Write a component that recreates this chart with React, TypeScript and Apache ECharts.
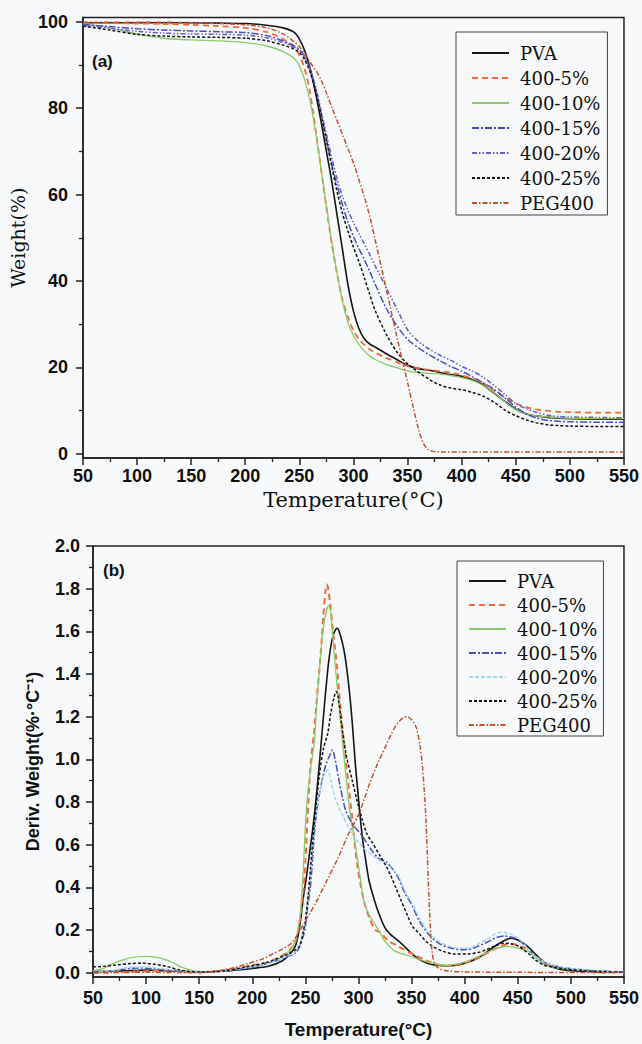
import React, { useEffect, useRef } from 'react';
import * as echarts from 'echarts';

const SERIES_NAMES = ['PVA', '400-5%', '400-10%', '400-15%', '400-20%', '400-25%', 'PEG400'];

const X_MIN = 50;
const X_MAX = 550;
const X_STEP = 50;

const TGA_LABEL_TICKS = [0, 20, 40, 60, 80, 100];
const TGA_MINOR_TICKS = [10, 30, 50, 70, 90];
const DTG_LABEL_TICKS = [0, 0.2, 0.4, 0.6, 0.8, 1.0, 1.2, 1.4, 1.6, 1.8, 2.0];
const DTG_MINOR_TICKS = [0.1, 0.3, 0.5, 0.7, 0.9, 1.1, 1.3, 1.5, 1.7, 1.9];

// ---------- (a) TGA: weight (%) vs temperature ----------
const tgaPVA = [[50,99.8],[75,99.8],[100,99.8],[125,99.8],[150,99.8],[175,99.7],[200,99.6],[220,99.2],[235,98.6],[245,97.6],[250,96],[255,93.3],[260,89.2],[265,83.5],[270,77],[275,70],[280,63],[285,55],[290,47],[295,39],[300,33],[305,29],[310,26.6],[315,25.4],[320,24.7],[330,23.2],[340,21.8],[350,20.5],[360,19.7],[370,19.3],[380,18.8],[390,18.3],[400,17.9],[410,17.1],[420,15.9],[430,14],[440,12.1],[450,10.3],[460,9.2],[470,8.7],[480,8.4],[490,8.2],[500,8.1],[525,8],[550,8]];
const tga5 = [[50,99.8],[75,99.7],[100,99.6],[125,99.5],[150,99.3],[175,99],[200,98.6],[220,97.6],[235,96],[245,94],[250,92.3],[255,89],[260,83.5],[265,75],[270,66],[275,57],[280,48.5],[285,41.5],[290,35.5],[295,31.5],[300,28.5],[305,26.5],[310,25.2],[315,24.2],[320,23.4],[330,22.2],[340,21.2],[350,20.3],[360,19.8],[370,19.4],[380,19.1],[390,18.8],[400,18.2],[410,17.4],[420,16.3],[430,14.6],[440,13],[450,11.6],[460,10.8],[470,10.2],[480,9.9],[490,9.7],[500,9.6],[525,9.5],[550,9.5]];
const tga10 = [[50,99.5],[75,98.6],[100,97.2],[125,96.2],[150,95.8],[175,95.6],[200,95.2],[220,94.4],[235,93.1],[245,91.6],[250,89.8],[255,86.5],[260,81.5],[265,74.5],[270,66],[275,57.5],[280,49],[285,41.5],[290,35],[295,30.3],[300,27.3],[305,25.3],[310,23.8],[315,22.6],[320,21.8],[330,20.7],[340,19.9],[350,19.2],[360,18.8],[370,18.6],[380,18.4],[390,18.1],[400,17.6],[410,16.9],[420,15.8],[430,14.1],[440,12],[450,10.2],[460,9.2],[470,8.7],[480,8.5],[490,8.3],[500,8.2],[525,8.1],[550,8.1]];
const tga15 = [[50,99.4],[75,98.9],[100,98.4],[125,98.1],[150,97.9],[175,97.7],[200,97.5],[220,96.8],[235,95.6],[245,94.5],[250,93.6],[255,92],[260,89],[265,84.5],[270,79],[275,73],[280,67],[285,62],[290,57.5],[295,53.5],[300,50.3],[305,47.5],[310,45],[315,42.2],[320,39.3],[330,33.8],[340,29.7],[350,26.5],[360,24.5],[370,22.9],[380,21.5],[390,20.2],[400,19.1],[410,17.8],[420,16.4],[430,14.9],[440,12.9],[450,10.8],[460,9.2],[470,8.2],[480,7.7],[490,7.5],[500,7.4],[525,7.3],[550,7.3]];
const tga20 = [[50,99.2],[75,98.5],[100,97.8],[125,97.4],[150,97.2],[175,97.1],[200,96.9],[220,96.3],[235,95.2],[245,94.2],[250,93.3],[255,91.8],[260,89],[265,85],[270,79.5],[275,74],[280,68.5],[285,63.5],[290,59.5],[295,56.3],[300,53.5],[305,51],[310,48.6],[315,46.1],[320,43.5],[330,38.6],[340,33.6],[350,28.7],[360,26],[370,24.2],[380,22.8],[390,21.6],[400,20.2],[410,19.1],[420,17.7],[430,15.8],[440,13.7],[450,11.6],[460,10.4],[470,9.5],[480,8.9],[490,8.6],[500,8.5],[525,8.4],[550,8.3]];
const tga25 = [[50,99],[75,98.1],[100,97.1],[125,96.7],[150,96.5],[175,96.4],[200,96.2],[220,95.6],[235,94.6],[245,93.7],[250,92.9],[255,91.2],[260,88.3],[265,84],[270,78.5],[275,72.5],[280,66.5],[285,60.5],[290,55.5],[295,51.5],[300,47.8],[305,44.5],[310,40.8],[315,36.9],[320,33.2],[330,27.8],[340,23.6],[350,20.8],[360,18.9],[370,17.2],[380,15.9],[390,15.2],[400,14.8],[410,14.2],[420,13.3],[430,11.9],[440,10.1],[450,8.8],[460,7.8],[470,7.1],[480,6.7],[490,6.5],[500,6.4],[525,6.3],[550,6.3]];
const tgaPEG = [[50,99.9],[75,99.9],[100,99.9],[125,99.9],[150,99.8],[175,99.6],[200,99.3],[220,98.6],[235,97.2],[245,95.4],[250,94.3],[255,92.6],[260,90.6],[265,88.8],[270,86.6],[275,83.5],[280,80.2],[285,77],[290,73.8],[295,70.6],[300,67.3],[305,63.5],[310,59.5],[315,55],[320,49.6],[330,38.5],[340,27.2],[350,16.5],[355,11],[360,5.8],[365,2.2],[370,0.8],[375,0.5],[380,0.4],[400,0.4],[450,0.4],[500,0.4],[550,0.4]];

// ---------- (b) DTG: derivative weight vs temperature ----------
const dtgPVA = [[50,0.005],[75,0.008],[100,0.012],[125,0.008],[150,0.003],[175,0.008],[200,0.02],[215,0.03],[228,0.055],[236,0.09],[241,0.13],[245,0.23],[248,0.35],[251,0.45],[255,0.6],[258.5,0.74],[263,0.97],[267.5,1.23],[272,1.46],[276,1.58],[280,1.615],[283,1.58],[286,1.52],[288,1.46],[291,1.34],[294,1.18],[297,0.98],[299,0.87],[303.5,0.64],[307,0.52],[310,0.43],[315,0.34],[319,0.28],[325,0.21],[330,0.18],[335,0.16],[342,0.13],[350,0.09],[360,0.055],[370,0.037],[382,0.033],[397,0.04],[413,0.07],[428,0.123],[437,0.15],[444,0.162],[452,0.148],[460,0.12],[468,0.08],[476,0.045],[485,0.022],[495,0.012],[510,0.007],[530,0.003],[550,0.002]];
const dtg5 = [[50,0.0],[75,0.003],[100,0.008],[120,0.012],[135,0.008],[150,0.003],[175,0.012],[200,0.035],[215,0.05],[228,0.08],[236,0.11],[241,0.15],[244,0.22],[247.3,0.34],[250,0.52],[252,0.73],[255,0.98],[258,1.12],[261,1.3],[264.5,1.5],[267,1.68],[269,1.79],[270,1.82],[271.5,1.8],[273.5,1.72],[275.5,1.62],[279,1.47],[283.3,1.23],[288,1.0],[291,0.86],[294,0.73],[299,0.5],[305,0.34],[310,0.26],[316,0.2],[320,0.19],[328,0.15],[335,0.13],[350,0.09],[366,0.053],[382,0.033],[400,0.045],[415,0.075],[430,0.115],[442,0.135],[450,0.13],[460,0.105],[470,0.065],[480,0.035],[495,0.018],[520,0.008],[550,0.003]];
const dtg10 = [[50,0.01],[60,0.02],[72,0.05],[85,0.07],[100,0.077],[110,0.072],[119,0.06],[128,0.04],[135,0.023],[150,0.005],[175,0.01],[200,0.03],[215,0.045],[228,0.075],[238,0.12],[244,0.23],[247.3,0.42],[250.5,0.73],[254,0.92],[258.3,1.08],[261.4,1.31],[264,1.47],[267,1.62],[270,1.7],[272,1.72],[274,1.68],[277,1.5],[282,1.23],[287,0.98],[292,0.75],[297,0.6],[300,0.5],[305,0.34],[310,0.27],[314,0.24],[320,0.19],[326,0.14],[335,0.1],[350,0.075],[365,0.05],[382,0.035],[400,0.05],[413,0.077],[428,0.11],[438,0.123],[448,0.118],[460,0.1],[468,0.065],[476,0.035],[490,0.02],[510,0.012],[530,0.006],[550,0.003]];
const dtg15 = [[50,0.0],[70,0.01],[90,0.022],[105,0.02],[125,0.01],[150,0.003],[175,0.01],[200,0.025],[215,0.045],[230,0.07],[241,0.094],[245,0.13],[249,0.19],[252,0.3],[255,0.42],[258,0.62],[260,0.73],[264,0.86],[269,0.97],[273,1.02],[275.5,1.044],[278,1.0],[281.7,0.9],[285,0.82],[288,0.76],[294,0.7],[303.6,0.64],[313,0.57],[319,0.535],[326,0.52],[333,0.48],[338,0.44],[344,0.37],[350,0.32],[357,0.245],[366,0.18],[375,0.14],[385,0.118],[397,0.108],[405,0.11],[413,0.125],[422,0.145],[430,0.165],[437,0.172],[445,0.165],[452,0.15],[460,0.11],[467,0.077],[475,0.05],[483,0.035],[495,0.022],[513,0.013],[530,0.007],[550,0.003]];
const dtg20 = [[50,0.0],[70,0.012],[85,0.025],[100,0.027],[115,0.018],[135,0.007],[150,0.002],[175,0.01],[200,0.028],[215,0.045],[230,0.072],[241,0.1],[245,0.14],[249,0.22],[252,0.33],[255,0.48],[258,0.65],[261,0.78],[265,0.88],[268,0.93],[271,0.95],[274,0.9],[278.6,0.81],[284.8,0.74],[294,0.65],[303.6,0.59],[313,0.55],[319,0.53],[326,0.51],[333,0.48],[338,0.45],[344,0.38],[350,0.33],[357,0.26],[366,0.19],[375,0.15],[385,0.125],[397,0.115],[405,0.118],[413,0.135],[422,0.16],[430,0.185],[436,0.19],[444,0.18],[452,0.155],[460,0.11],[467,0.075],[475,0.05],[483,0.035],[495,0.022],[513,0.013],[530,0.007],[550,0.003]];
const dtg25 = [[50,0.027],[60,0.03],[72,0.037],[85,0.043],[97,0.045],[108,0.04],[119,0.03],[130,0.015],[140,0.006],[150,0.003],[175,0.01],[197,0.03],[215,0.05],[228.5,0.077],[238,0.1],[244,0.12],[247.5,0.18],[250.5,0.264],[253,0.38],[255,0.5],[257.5,0.65],[260,0.78],[263,0.92],[267,1.05],[271,1.12],[274,1.22],[277,1.29],[279,1.318],[281,1.29],[284,1.17],[288,1.03],[294.2,0.9],[299,0.8],[303.6,0.717],[308,0.65],[313,0.61],[320,0.55],[326,0.5],[330,0.46],[335,0.4],[340,0.34],[346,0.27],[350.5,0.22],[356.7,0.186],[363,0.15],[369.3,0.125],[380,0.1],[390,0.088],[403,0.088],[413,0.095],[420,0.108],[428,0.125],[436,0.138],[444,0.135],[451,0.123],[460,0.09],[466,0.062],[475,0.035],[482,0.028],[495,0.017],[510,0.01],[530,0.005],[550,0.002]];
const dtgPEG = [[50,0.0],[100,0.002],[150,0.0],[180,0.02],[197,0.045],[210,0.065],[220,0.09],[230,0.115],[237,0.14],[244,0.19],[252,0.26],[260,0.33],[270,0.43],[280,0.53],[291,0.655],[300,0.74],[310,0.88],[318,0.98],[325.5,1.06],[331,1.12],[338,1.177],[345.8,1.2],[351,1.18],[355,1.14],[358,1.06],[360,0.98],[362,0.85],[363.5,0.72],[366,0.4],[368,0.18],[369.5,0.09],[372,0.04],[375.5,0.02],[385,0.008],[400,0.004],[450,0.002],[550,0.0]];

const TGA_DATA = [tgaPVA, tga5, tga10, tga15, tga20, tga25, tgaPEG];
const DTG_DATA = [dtgPVA, dtg5, dtg10, dtg15, dtg20, dtg25, dtgPEG];

const FONT_SANS = '"Liberation Sans", Arial, sans-serif';
const FONT_SERIF = '"DejaVu Serif", "Liberation Serif", serif';
const AXIS_COLOR = '#222';
const BG = '#f8f9fb';

type Style = { color: string; type: any; width: number };

const TGA_STYLES: Style[] = [
  { color: '#151515', type: 'solid', width: 1.6 },
  { color: '#f26b3a', type: [6, 4], width: 1.8 },
  { color: '#8cc968', type: 'solid', width: 1.3 },
  { color: '#4650c0', type: [7, 2, 2, 2], width: 1.5 },
  { color: '#6d5cc8', type: [5, 2, 1.5, 2, 1.5, 2], width: 1.5 },
  { color: '#151515', type: [3, 2], width: 1.5 },
  { color: '#c4532d', type: [5, 2, 1.5, 2], width: 1.5 },
];

const DTG_STYLES: Style[] = [
  { color: '#151515', type: 'solid', width: 1.6 },
  { color: '#f26b3a', type: [6, 4], width: 2 },
  { color: '#8cc968', type: 'solid', width: 1.3 },
  { color: '#4650c0', type: [7, 2, 2, 2], width: 1.5 },
  { color: '#a3d5e8', type: [4, 2], width: 1.5 },
  { color: '#151515', type: [3, 2], width: 1.5 },
  { color: '#c4532d', type: [5, 2, 1.5, 2], width: 1.5 },
];

function buildSeries(data: number[][][], styles: Style[]) {
  return SERIES_NAMES.map((name, i) => ({
    name,
    type: 'line',
    data: data[i],
    showSymbol: false,
    symbol: 'none',
    smooth: 0.3,
    lineStyle: { color: styles[i].color, type: styles[i].type, width: styles[i].width },
    itemStyle: { color: styles[i].color },
    emphasis: { disabled: true },
  }));
}

function xAxisConf(nameGap: number, margin: number, nameStyle: any) {
  return {
    type: 'value',
    min: X_MIN,
    max: X_MAX,
    interval: X_STEP,
    name: 'Temperature(°C)',
    nameLocation: 'middle',
    nameGap,
    nameTextStyle: nameStyle,
    axisLine: { show: true, onZero: false, lineStyle: { color: AXIS_COLOR, width: 1.5 } },
    axisTick: { show: true, length: 7, lineStyle: { color: AXIS_COLOR, width: 1.5 } },
    minorTick: { show: true, splitNumber: 2, length: 4, lineStyle: { color: AXIS_COLOR, width: 1.3 } },
    axisLabel: { margin, fontFamily: FONT_SANS, fontWeight: 'bold', fontSize: 18, color: '#111' },
    splitLine: { show: false },
    minorSplitLine: { show: false },
  };
}

function yAxesConf(min: number, max: number, labels: number[], minor: number[], fmt: (v: number) => string, name: string, nameGap: number, nameStyle: any, margin: number) {
  return [
    {
      type: 'value',
      position: 'left',
      min,
      max,
      name,
      nameLocation: 'middle',
      nameGap,
      nameTextStyle: nameStyle,
      axisLine: { show: true, onZero: false, lineStyle: { color: AXIS_COLOR, width: 1.5 } },
      axisTick: { show: true, length: 7, customValues: labels, lineStyle: { color: AXIS_COLOR, width: 1.5 } },
      axisLabel: { customValues: labels, formatter: fmt, margin, fontFamily: FONT_SANS, fontWeight: 'bold', fontSize: 18, color: '#111' },
      splitLine: { show: false },
    },
    {
      type: 'value',
      position: 'left',
      min,
      max,
      axisLine: { show: false },
      axisTick: { show: true, length: 4, customValues: minor, lineStyle: { color: AXIS_COLOR, width: 1.3 } },
      axisLabel: { show: false },
      splitLine: { show: false },
    },
  ];
}

function legendConf(left: number, top: number, gap: number, padding: number[]) {
  return {
    orient: 'vertical',
    left,
    top,
    itemWidth: 37,
    itemHeight: 14,
    itemGap: gap,
    padding,
    borderColor: '#444',
    borderWidth: 1,
    selectedMode: false,
    data: SERIES_NAMES,
    itemStyle: { color: 'rgba(0,0,0,0)', borderColor: 'rgba(0,0,0,0)', borderWidth: 0, opacity: 0 },
    textStyle: { fontFamily: FONT_SERIF, fontSize: 18, lineHeight: 18, color: '#111', padding: [0, 0, 0, 6] },
  };
}

const optionA = {
  animation: false,
  backgroundColor: BG,
  grid: { left: 82, right: 16, top: 17.5, bottom: 62, show: true, borderColor: AXIS_COLOR, borderWidth: 1.5, backgroundColor: 'transparent' },
  xAxis: xAxisConf(30, 9, { fontFamily: FONT_SERIF, fontSize: 21, color: '#111' }),
  yAxis: yAxesConf(-1, 101, TGA_LABEL_TICKS, TGA_MINOR_TICKS, (v: number) => String(v), 'Weight(%)', 49, { fontFamily: FONT_SERIF, fontSize: 19, color: '#111' }, 15),
  legend: legendConf(456, 32, 7, [12, 7, 3, 15]),
  graphic: [
    { type: 'text', left: 92, top: 53, style: { text: '(a)', fontFamily: FONT_SANS, fontWeight: 'bold', fontSize: 17, fill: '#111' } },
  ],
  series: buildSeries(TGA_DATA, TGA_STYLES),
};

const optionB = {
  animation: false,
  backgroundColor: BG,
  grid: { left: 93, right: 16, top: 26, bottom: 67, show: true, borderColor: AXIS_COLOR, borderWidth: 1.5, backgroundColor: 'transparent' },
  xAxis: xAxisConf(43, 12, { fontFamily: FONT_SANS, fontWeight: 'bold', fontSize: 19, color: '#111' }),
  yAxis: yAxesConf(-0.02, 2.0, DTG_LABEL_TICKS, DTG_MINOR_TICKS, (v: number) => v.toFixed(1), 'Deriv. Weight(%·°C⁻¹)', 51, { fontFamily: FONT_SANS, fontWeight: 'bold', fontSize: 18, color: '#111' }, 13),
  legend: legendConf(457, 41, 6, [11, 6, 2, 11]),
  graphic: [
    { type: 'text', left: 103, top: 42, style: { text: '(b)', fontFamily: FONT_SANS, fontWeight: 'bold', fontSize: 17, fill: '#111' } },
  ],
  series: buildSeries(DTG_DATA, DTG_STYLES),
};

export default function App() {
  const refA = useRef<HTMLDivElement>(null);
  const refB = useRef<HTMLDivElement>(null);
  useEffect(() => {
    const a = echarts.init(refA.current!, undefined, { renderer: 'svg' });
    a.setOption(optionA as any);
    const b = echarts.init(refB.current!, undefined, { renderer: 'svg' });
    b.setOption(optionB as any);
    return () => {
      a.dispose();
      b.dispose();
    };
  }, []);
  return (
    <div style={{ position: 'absolute', left: 0, top: 0, width: 642, height: 1044, background: BG }}>
      <div ref={refA} style={{ position: 'absolute', left: 0, top: 0, width: 642, height: 520 }} />
      <div ref={refB} style={{ position: 'absolute', left: 0, top: 520, width: 642, height: 524 }} />
    </div>
  );
}
